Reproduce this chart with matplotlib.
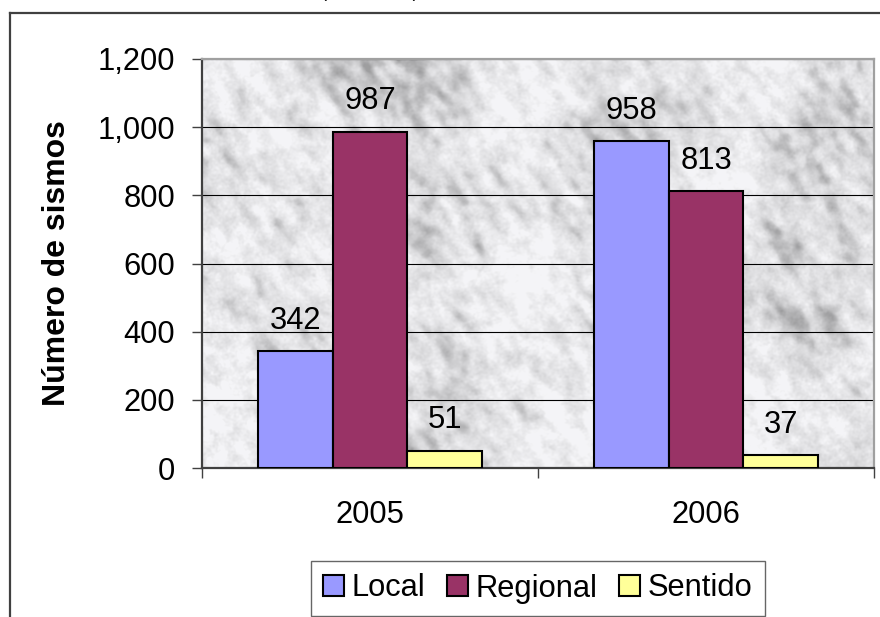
import numpy as np
import matplotlib
matplotlib.use("Agg")
import matplotlib.pyplot as plt
from matplotlib.lines import Line2D
from matplotlib.ticker import FuncFormatter, FixedLocator

plt.rcParams['font.family'] = ['Liberation Sans', 'DejaVu Sans']

# Data
years = ["2005", "2006"]
series = ["Local", "Regional", "Sentido"]
local = [342, 958]
regional = [987, 813]
sentido = [51, 37]
colors = ["#9999FF", "#993366", "#FFFF99"]
y_ticks = [0, 200, 400, 600, 800, 1000, 1200]

W_PX, H_PX, DPI = 880, 617, 100
fig = plt.figure(figsize=(W_PX / DPI, H_PX / DPI), dpi=DPI)
ax = fig.add_axes([202 / W_PX, 1 - 468 / H_PX, 672 / W_PX, 409 / H_PX])

FS = 22.2


# Marble-like background texture for the plot area
def smooth_noise(rng, h, w, sx, sy, angle):
    n = rng.standard_normal((h, w))
    fy = np.fft.fftfreq(h)[:, None]
    fx = np.fft.fftfreq(w)[None, :]
    c, s = np.cos(angle), np.sin(angle)
    u = fx * c + fy * s
    v = -fx * s + fy * c
    k = np.exp(-2 * np.pi ** 2 * ((u * sx) ** 2 + (v * sy) ** 2))
    out = np.real(np.fft.ifft2(np.fft.fft2(n) * k))
    return (out - out.mean()) / out.std()


rng = np.random.default_rng(5)
H, W = 409, 672
ang = np.deg2rad(-35)
n_streak = smooth_noise(rng, H, W, 4, 14, ang)
n_blob = smooth_noise(rng, H, W, 3, 4, ang)
n_fine = smooth_noise(rng, H, W, 1, 1, 0)
n_big = smooth_noise(rng, H, W, 30, 40, ang)
t = 0.5 * n_streak + 0.4 * n_blob + 0.55 * n_big
t = (t - t.mean()) / t.std()
val = 0.895 - 0.045 * t - 0.05 * np.clip(t - 0.8, 0, None) + 0.012 * n_fine
val = np.clip(val, 0.62, 0.96)
tex = np.dstack([val, val, np.clip(val * 1.01, 0, 1)])
ax.imshow(tex, extent=[-0.5, 1.5, 0, 1200], aspect='auto', zorder=0,
          interpolation='bilinear')

# Bars
x = np.arange(len(years))
bw = 1 / 4.5
for i, (name, vals, col) in enumerate(zip(series, [local, regional, sentido], colors)):
    pos = x + (i - 1) * bw
    bars = ax.bar(pos, vals, width=bw, color=col, edgecolor="black",
                  linewidth=1.5, label=name, zorder=3)
    for b, v in zip(bars, vals):
        ax.annotate(f"{v}", (b.get_x() + b.get_width() / 2, v),
                    xytext=(0, 11), textcoords="offset points",
                    ha="center", va="bottom", fontsize=FS, zorder=4)

ax.set_xlim(-0.5, 1.5)
ax.set_ylim(0, 1200)

# Grid
ax.yaxis.set_major_locator(FixedLocator(y_ticks))
ax.yaxis.set_major_formatter(FuncFormatter(lambda v, p: f"{int(v):,}"))
ax.grid(axis="y", color="black", linewidth=0.8)
ax.set_axisbelow(True)
for gl in ax.get_ygridlines():
    gl.set_zorder(1)

# Ticks
ax.set_xticks(x)
ax.set_xticklabels(years)
ax.set_xticks([-0.5, 0.5, 1.5], minor=True)
ax.tick_params(axis="x", which="major", length=0, pad=23, labelsize=FS)
ax.tick_params(axis="x", which="minor", length=7.5, width=1, color="#404040",
               direction="out")
ax.tick_params(axis="y", which="major", length=7.5, width=1, color="#404040",
               direction="out", pad=12, labelsize=FS)

# Frame
for side in ["left", "bottom"]:
    ax.spines[side].set_color("#404040")
    ax.spines[side].set_linewidth(1.6)
for side in ["top", "right"]:
    ax.spines[side].set_color("#A0A0A0")
    ax.spines[side].set_linewidth(1.6)

ax.set_ylabel("Número de sismos", fontsize=23, fontweight="bold")
ax.yaxis.set_label_coords(-(202 - 72) / 672, 0.5)

# Chart area border
fig.add_artist(Line2D([10 / W_PX, 10 / W_PX], [0, 1 - 13 / H_PX],
                      transform=fig.transFigure, color="#404040", linewidth=1.6))
fig.add_artist(Line2D([10 / W_PX, 1], [1 - 13 / H_PX, 1 - 13 / H_PX],
                      transform=fig.transFigure, color="#404040", linewidth=1.6))

# Title, running off the top edge
fig.text(321 / W_PX, 1 + 3 / H_PX, "(2005-2006)", fontsize=13,
         ha="left", va="baseline")

# Legend
leg = fig.legend(loc="center", bbox_to_anchor=(538 / W_PX, 1 - 588.5 / H_PX),
                 ncol=3, fontsize=FS, frameon=True, fancybox=False,
                 edgecolor="#404040", handlelength=0.68, handleheight=0.68,
                 handletextpad=0.25, columnspacing=0.7, borderpad=0.4,
                 borderaxespad=0)
leg.get_frame().set_linewidth(1.0)

fig.savefig("out.png", dpi=DPI)
